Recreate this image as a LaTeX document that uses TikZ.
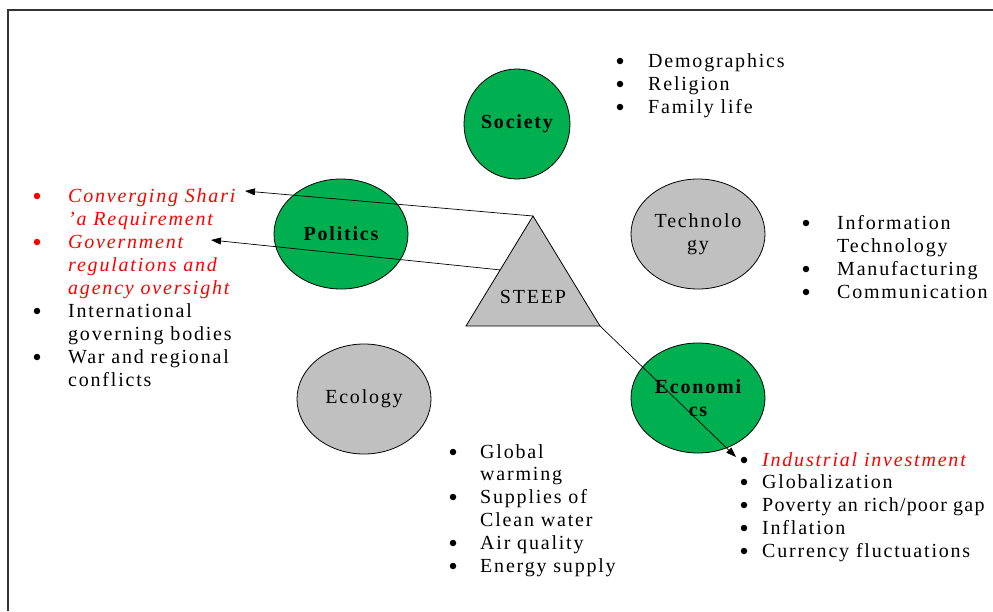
\documentclass[tikz,border=0pt]{standalone}
\usepackage{fontspec}
\setmainfont{Liberation Serif}[LetterSpace=9]
\newfontfamily\tightfont{Liberation Serif}[LetterSpace=6]
\usetikzlibrary{arrows.meta,calc,shapes.geometric}
\definecolor{egreen}{HTML}{00B050}
\definecolor{egray}{HTML}{C0C0C0}
\definecolor{ered}{HTML}{FF0000}
\tikzset{
  circ/.style={ellipse, draw=black, line width=0.8pt, minimum width=134pt, minimum height=110pt, inner sep=0pt, align=center, font=\fontsize{20}{23}\selectfont},
  gcirc/.style={circ, fill=egreen, font=\fontsize{20}{23}\selectfont\bfseries},
  scirc/.style={circ, fill=egray},
  txt/.style={font=\fontsize{20}{23}\selectfont, inner sep=0pt, anchor=base west},
  rtxt/.style={txt, text=ered, font=\fontsize{20}{23}\selectfont\itshape},
  bul/.style={circle, fill=black, inner sep=0pt, minimum size=6.5pt},
  rbul/.style={bul, fill=ered},
  conn/.style={line width=0.7pt, -{Triangle[length=10pt,width=7pt]}}
}
\begin{document}
\begin{tikzpicture}[x=1pt,y=-1pt]
\useasboundingbox (0,0) rectangle (993,611);
\draw[line width=1.3pt, draw=black!80] (8,611) -- (8,10) -- (993,10);

% ellipses
\node[gcirc, minimum width=106pt] (soc) at (517,124) {Society};
\node[gcirc] (pol) at (341,234) {Politics};
\node[scirc] (tec) at (698,234) {Technolo\\gy};
\node[scirc] (eco) at (364,399) {Ecology};
\node[gcirc] (ecn) at (698,398) {Economi\\cs};

% triangle
\coordinate (apex) at (533,216);
\coordinate (bl) at (466,326);
\coordinate (br) at (600,326);
\draw[fill=egray, line width=0.8pt] (apex) -- (bl) -- (br) -- cycle;
\node[font=\fontsize{20}{23}\selectfont, inner sep=0pt] (steep) at (533,297) {STEEP};
\coordinate (lside) at ($(apex)!0.49!(bl)$);

% Society list
\node[bul] (sb1) at (620,61) {};
\node[txt] (s1) at (648,67) {Demographics};
\node[bul] (sb2) at (620,84) {};
\node[txt] (s2) at (648,90) {Religion};
\node[bul] (sb3) at (620,107) {};
\node[txt] (s3) at (648,113) {Family life};

% Technology list
\node[bul] (tb1) at (806,223) {};
\node[txt] (t1) at (837,229) {Information};
\node[txt] (t1b) at (837,252) {Technology};
\node[bul] (tb2) at (806,269) {};
\node[txt] (t2) at (837,275) {Manufacturing};
\node[bul] (tb3) at (806,292) {};
\node[txt] (t3) at (837,298) {Communication};

% Politics list
\node[rbul] (pb1) at (37,196) {};
\node[rtxt] (p1) at (68,202) {Converging Shari};
\node[rtxt] (p1b) at (68,225) {'a Requirement};
\node[rbul] (pb2) at (37,242) {};
\node[rtxt] (p2) at (68,248) {Government};
\node[rtxt] (p2b) at (68,271) {regulations and};
\node[rtxt] (p2c) at (68,294) {agency oversight};
\node[bul] (pb3) at (37,311) {};
\node[txt] (p3) at (68,317) {International};
\node[txt] (p3b) at (68,340) {governing bodies};
\node[bul] (pb4) at (37,357) {};
\node[txt] (p4) at (68,363) {War and regional};
\node[txt] (p4b) at (68,386) {conflicts};

% Ecology list
\node[bul] (eb1) at (453,452) {};
\node[txt] (e1) at (480,458) {Global};
\node[txt] (e1b) at (480,480) {warming};
\node[bul] (eb2) at (453,497) {};
\node[txt] (e2) at (480,503) {Supplies of};
\node[txt] (e2b) at (480,526) {Clean water};
\node[bul] (eb3) at (453,543) {};
\node[txt] (e3) at (480,549) {Air quality};
\node[bul] (eb4) at (453,566) {};
\node[txt] (e4) at (480,572) {Energy supply};

% Economics list
\node[bul] (nb1) at (744,460) {};
\node[rtxt] (n1) at (762,466) {Industrial investment};
\node[bul] (nb2) at (744,482) {};
\node[txt] (n2) at (762,488) {Globalization};
\node[bul] (nb3) at (744,505) {};
\node[txt, font=\fontsize{20}{23}\tightfont] (n3) at (762,511) {Poverty an rich/poor gap};
\node[bul] (nb4) at (744,528) {};
\node[txt] (n4) at (762,534) {Inflation};
\node[bul] (nb5) at (744,551) {};
\node[txt] (n5) at (762,557) {Currency fluctuations};

% connectors
\coordinate (end1) at (245,191);
\coordinate (end2) at (211,240);
\coordinate (end3) at (736,457);
\draw[conn] (apex) -- (end1);
\draw[conn] (lside) -- (end2);
\draw[conn] (br) -- (end3);
\end{tikzpicture}
\end{document}
